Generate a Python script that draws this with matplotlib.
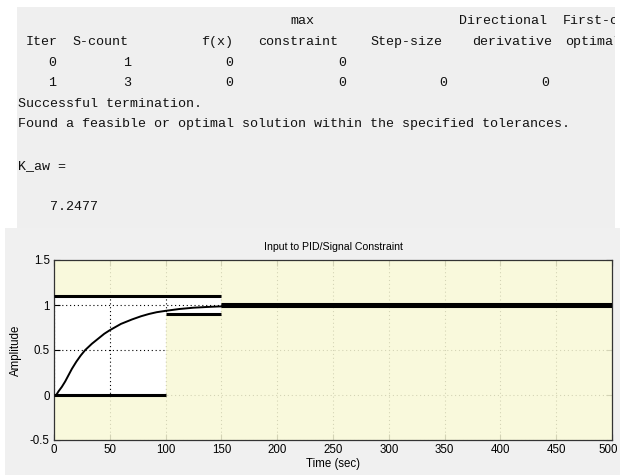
import matplotlib
matplotlib.use('Agg')
import matplotlib.pyplot as plt
from matplotlib.transforms import ScaledTranslation

# --- console output (MATLAB command window) ---
header_max = [('max', 291), ('Directional', 460), ('First-order', 564)]
header_cols = [('Iter', 27), ('S-count', 73), ('f(x)', 202), ('constraint', 259),
               ('Step-size', 371), ('derivative', 473), ('optimality', 566)]
iter_rows = [['0', '1', '0', '0'],
             ['1', '3', '0', '0', '0', '0']]
digit_x = [52, 127, 229, 342, 443, 545]
msg_lines = ['Successful termination.',
             'Found a feasible or optimal solution within the specified tolerances.',
             '',
             'K_aw =',
             '',
             '    7.2477']

# --- simulated response and signal bounds ---
t_resp = [2, 4, 7, 10, 13, 16, 20, 24, 28, 34, 40, 45, 50, 60, 70, 78, 85, 92,
          100, 112, 125, 137, 150, 200, 300, 500]
y_resp = [0, 0.04, 0.09, 0.15, 0.22, 0.29, 0.37, 0.44, 0.5, 0.57, 0.63, 0.68,
          0.72, 0.79, 0.84, 0.875, 0.9, 0.92, 0.935, 0.955, 0.97, 0.978, 0.985,
          0.997, 1.0, 1.0]

upper_t = [0, 150, 500]
upper_y = [1.1, 1.015]
lower_t = [0, 100, 150, 500]
lower_y = [0, 0.9, 0.985]

xticks = [0, 50, 100, 150, 200, 250, 300, 350, 400, 450, 500]
yticks = [-0.5, 0, 0.5, 1, 1.5]

W, H = 620, 475
fig = plt.figure(figsize=(6.2, 4.75), dpi=100)
fig.patch.set_facecolor('white')

def px_axes(x0, y0, x1, y1):
    return fig.add_axes([x0 / W, (H - y1) / H, (x1 - x0) / W, (y1 - y0) / H])

# gray panel behind the plot
bg = px_axes(5, 228, 620, 475)
bg.set_facecolor('#f0f0f0')
bg.set_xticks([]); bg.set_yticks([])
for s in bg.spines.values():
    s.set_visible(False)

# console panel
con = px_axes(17, 7, 615, 228)
con.set_xlim(17, 615)
con.set_ylim(228, 7)
con.set_facecolor('#efefef')
con.set_xticks([]); con.set_yticks([])
for s in con.spines.values():
    s.set_visible(False)

mono = dict(family='Liberation Mono', fontsize=9.6, color='#111111', clip_on=True)
pitch = 20.6
base0 = 24.5
for txt, x in header_max:
    con.text(x - 1, base0, txt, va='baseline', ha='left', **mono)
for txt, x in header_cols:
    con.text(x - 1, base0 + pitch, txt, va='baseline', ha='left', **mono)
for i, row in enumerate(iter_rows):
    for j, val in enumerate(row):
        con.text(digit_x[j], base0 + pitch * (2 + i), val, va='baseline', ha='center', **mono)
for i, line in enumerate(msg_lines):
    con.text(17.5, base0 + pitch * (4 + i), line, va='baseline', ha='left', **mono)

# --- the signal constraint plot ---
ax = px_axes(54, 260, 612, 440)
ax.set_facecolor('white')
ax.set_xlim(0, 500)
ax.set_ylim(-0.5, 1.5)
ax.set_axisbelow(True)
ax.grid(True, color='black', linestyle=(0, (1, 2.5)), linewidth=0.8)

fill_col = '#f9f9d6'
for i in range(len(upper_y)):
    ax.fill_between([upper_t[i], upper_t[i + 1]], upper_y[i], 1.5,
                    color=fill_col, alpha=0.85, linewidth=0, zorder=1)
    ax.hlines(upper_y[i], upper_t[i], upper_t[i + 1], color='black', linewidth=2.2, zorder=3)
for i in range(len(lower_y)):
    ax.fill_between([lower_t[i], lower_t[i + 1]], -0.5, lower_y[i],
                    color=fill_col, alpha=0.85, linewidth=0, zorder=1)
    ax.hlines(lower_y[i], lower_t[i], lower_t[i + 1], color='black', linewidth=2.2, zorder=3)

ax.plot(t_resp, y_resp, color='black', linewidth=1.4, zorder=4,
        solid_joinstyle='round')

ax.set_xticks(xticks)
ax.set_yticks(yticks)
ax.set_yticklabels(['-0.5', '0', '0.5', '1', '1.5'])
ax.tick_params(direction='in', top=True, right=True, length=4, width=0.8,
               labelsize=8.3, colors='black', pad=3)
for lab in ax.get_xticklabels() + ax.get_yticklabels():
    lab.set_family('Liberation Sans')
# last x label sits a little inside the figure edge, as in the reference
last = ax.get_xticklabels()[-1]
last.set_transform(last.get_transform() + ScaledTranslation(-4 / 100, 0, fig.dpi_scale_trans))
for s in ax.spines.values():
    s.set_color('#333333')
    s.set_linewidth(0.9)

ax.set_title('Input to PID/Signal Constraint', family='Liberation Sans', fontsize=7.6, pad=7)
ax.set_xlabel('Time (sec)', family='Liberation Sans', fontsize=8.3, labelpad=1)
ax.set_ylabel('Amplitude', family='Liberation Sans', fontsize=8.3, labelpad=6)

fig.savefig('out.png', dpi=100)
